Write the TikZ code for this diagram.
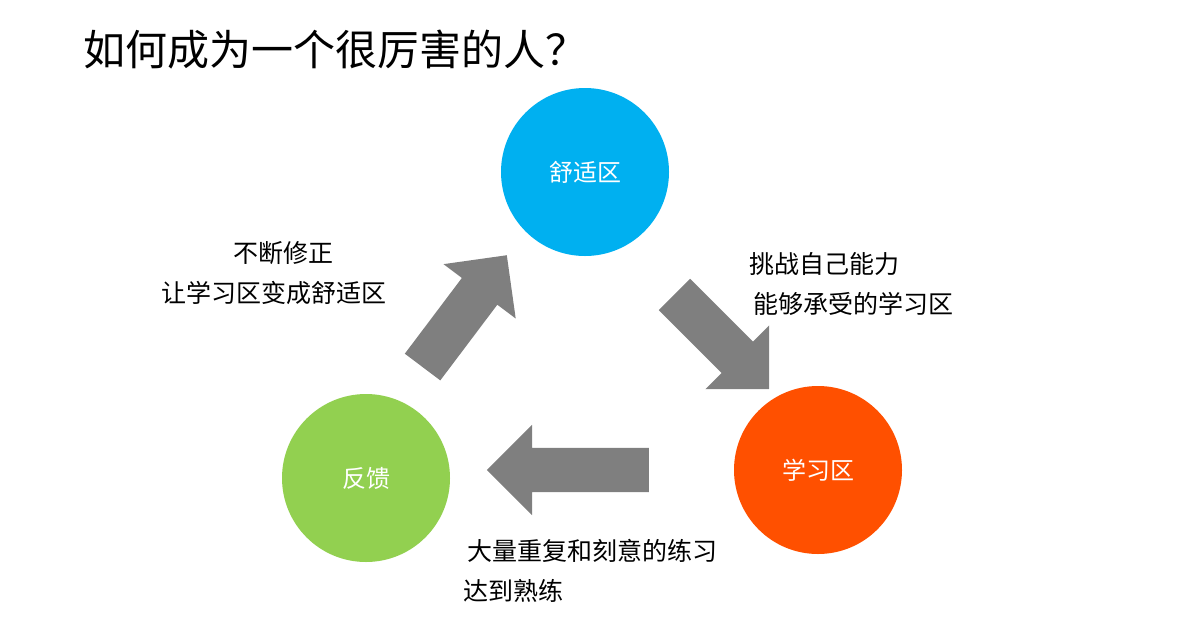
\documentclass[tikz,border=0pt]{standalone}
\usepackage{fontspec}
\newfontfamily\cjk{Noto Sans CJK SC}
\usetikzlibrary{shapes.arrows}
\definecolor{c00B0F0}{RGB}{0,176,240}
\definecolor{cFF5000}{RGB}{255,80,0}
\definecolor{c92D050}{RGB}{146,208,80}
\definecolor{c7F7F7F}{RGB}{127,127,127}
\tikzset{
  zone/.style={circle, minimum size=168pt, inner sep=0pt, text=white, font=\cjk\fontsize{24}{28}\selectfont},
  flow/.style={single arrow, fill=c7F7F7F, draw=none, inner xsep=0pt, inner ysep=22pt,
    single arrow head extend=23pt, single arrow head indent=0pt},
  note/.style={anchor=west, align=left, font=\cjk\fontsize{25}{40}\selectfont}
}
\begin{document}
\begin{tikzpicture}[x=1pt,y=-1pt]
  \useasboundingbox (0,0) rectangle (1180,622);
  \node[anchor=west, font=\cjk\fontsize{42}{46}\selectfont] (title) at (80,50) {如何成为一个很厉害的人？};
  % zones
  \node[zone, fill=c00B0F0] (comfort) at (585,172) {舒适区};
  \node[zone, fill=cFF5000] (learn) at (818,470) {学习区};
  \node[zone, fill=c92D050] (feedback) at (366,478) {反馈};
  % block arrows
  \node[flow, minimum height=140pt, rotate=53] (up) at (458,320) {};
  \node[flow, minimum height=134pt, rotate=-45] (down) at (714,334) {};
  \node[flow, minimum height=162pt, rotate=180] (back) at (579,470) {};
  % notes
  \node[note] (fix) at (158,273) {\hspace*{72pt}不断修正\\让学习区变成舒适区};
  \node[note] (push) at (746,284) {挑战自己能力\\\hspace*{4pt}能够承受的学习区};
  \node[note] (drill) at (460,571) {\hspace*{4pt}大量重复和刻意的练习\\达到熟练};
\end{tikzpicture}
\end{document}
